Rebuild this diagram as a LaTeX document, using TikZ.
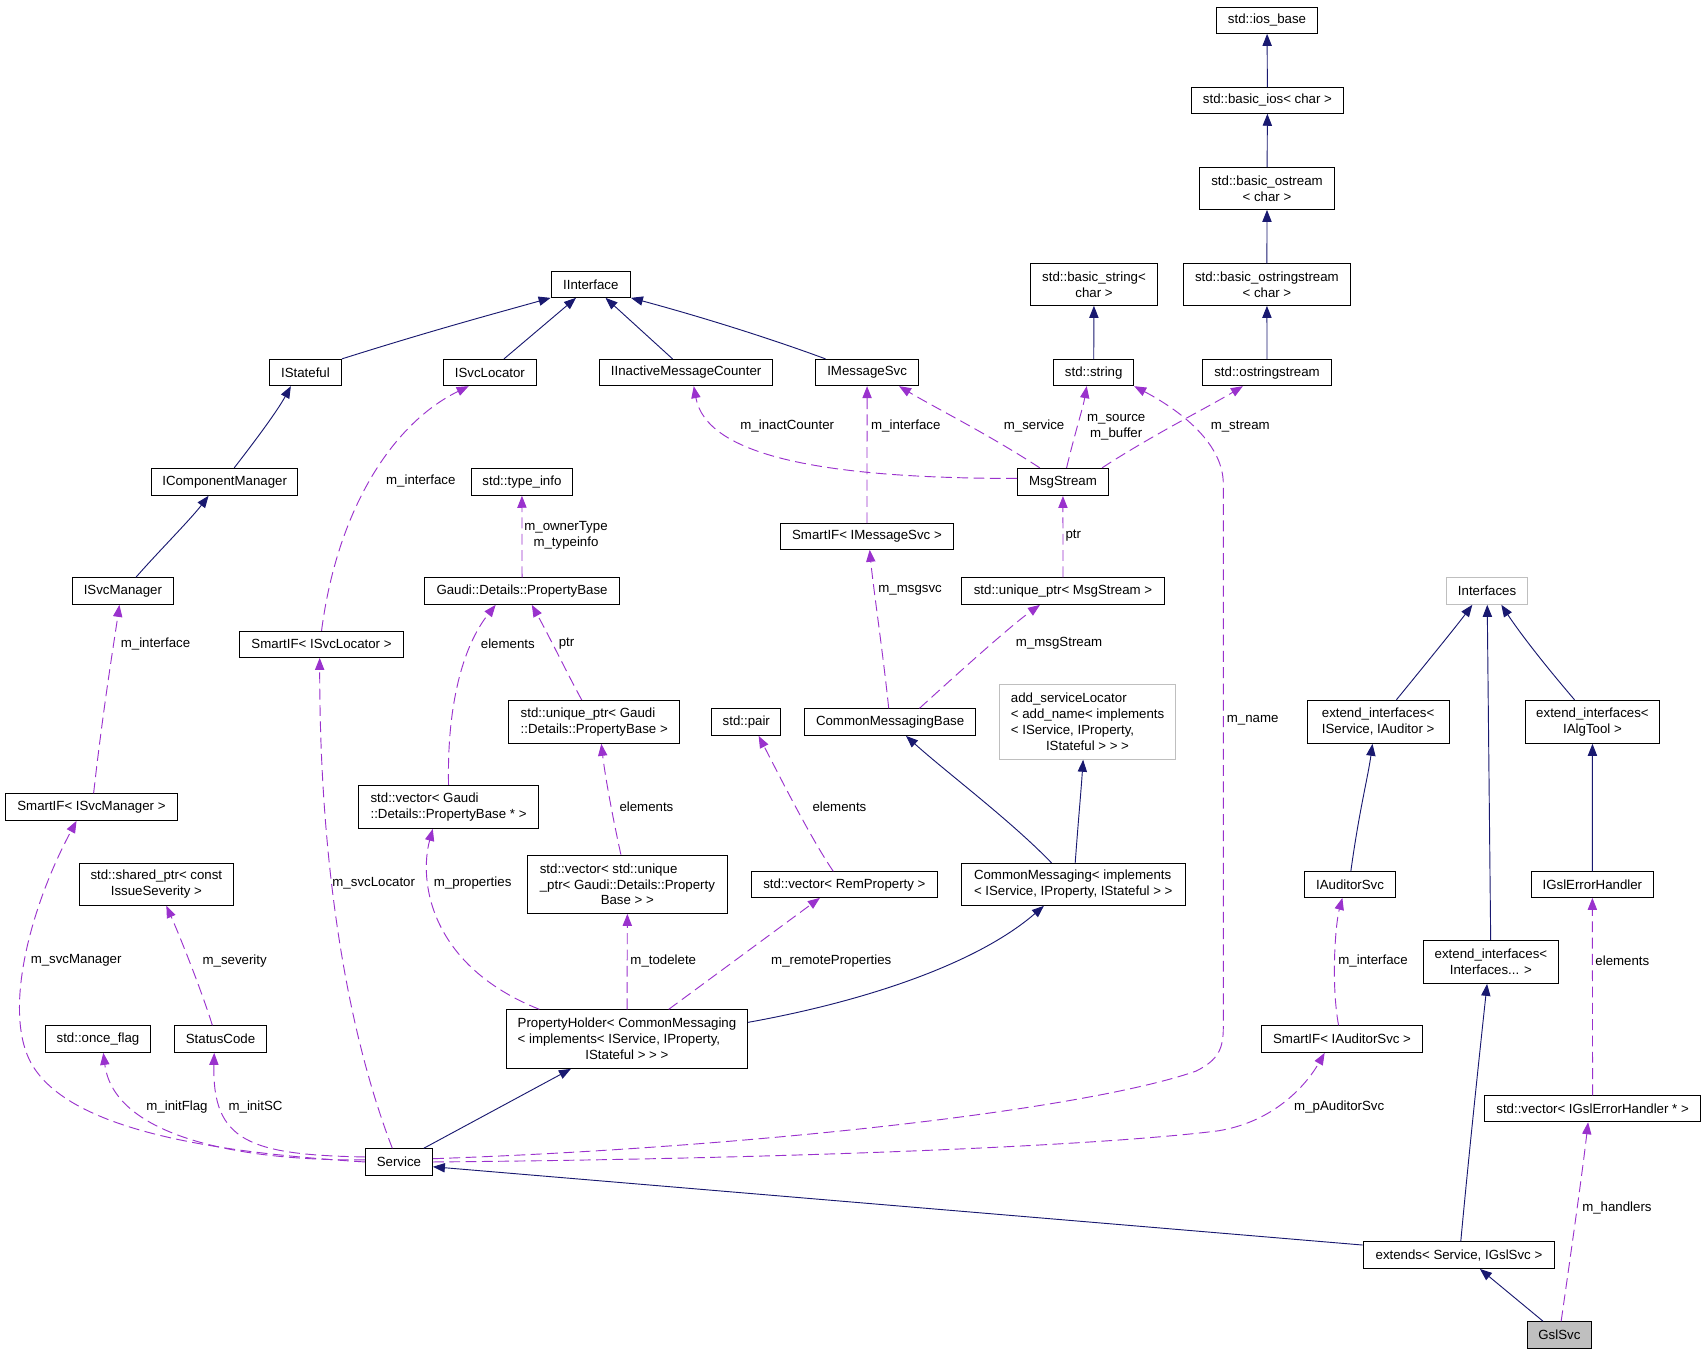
\documentclass[tikz,border=0pt]{standalone}
\usepackage{fontspec}
\setmainfont{Liberation Sans}
\usetikzlibrary{arrows.meta}
\definecolor{navyedge}{HTML}{191970}
\definecolor{purpedge}{HTML}{9A32CD}
\definecolor{graybd}{HTML}{BFBFBF}
\definecolor{gslgray}{HTML}{BFBFBF}
\begin{document}
\begin{tikzpicture}[x=1pt,y=-1pt,
  every node/.style={font=\fontsize{12.2}{14.7}\selectfont},
  sz/.style 2 args={minimum width=#1pt,minimum height=#2pt},
  box/.style={draw=black, line width=0.9pt, inner sep=0pt, align=center},
  grbox/.style={box, draw=graybd},
  lbl/.style={inner sep=0pt, align=center},
  inh/.style={draw=navyedge, line width=0.85pt, -{Triangle[length=11pt,width=8.5pt]}},
  dep/.style={draw=purpedge, line width=0.85pt, dash pattern=on 10pt off 5pt, -{Triangle[length=11pt,width=8.5pt]}}
]
\fill[white] (0,0) rectangle (1568,1246);
\useasboundingbox (0,0) rectangle (1568,1246);

% ---------- nodes ----------
\node[box,sz={92.4}{24}] (iosbase) at (1165.2,18.7) {std::ios\_base};
\node[box,sz={139.8}{23.6}] (basicios) at (1165.6,92.4) {std::basic\_ios< char >};
\node[box,sz={123.9}{38.3}] (bostream) at (1165.2,173.4) {std::basic\_ostream\\< char >};
\node[box,sz={153.6}{38.3}] (bostrstream) at (1165.1,261.7) {std::basic\_ostringstream\\< char >};
\node[box,sz={117}{38.6}] (bstring) at (1006.1,261.5) {std::basic\_string<\\char >};
\node[box,sz={73.6}{24}] (string) at (1005.8,342.7) {std::string};
\node[box,sz={118.9}{24}] (ostrstream) at (1165.2,342.7) {std::ostringstream};
\node[box,sz={73}{23.6}] (iinterface) at (543.3,261.7) {IInterface};
\node[box,sz={66.2}{24.2}] (istateful) at (280.9,342.6) {IStateful};
\node[box,sz={85.8}{24.2}] (isvclocator) at (450.5,342.6) {ISvcLocator};
\node[box,sz={159.3}{24.2}] (iinactive) at (631,342.6) {IInactiveMessageCounter};
\node[box,sz={94.6}{24.2}] (imsgsvc) at (797.4,342.6) {IMessageSvc};
\node[box,sz={134.4}{24.8}] (icompmgr) at (206.6,443.1) {IComponentManager};
\node[box,sz={92.9}{24.8}] (typeinfo) at (480,443.1) {std::type\_info};
\node[box,sz={83.5}{25}] (msgstream) at (977.5,443.2) {MsgStream};
\node[box,sz={159.1}{23.6}] (smartmsg) at (797.3,493.4) {SmartIF< IMessageSvc >};
\node[box,sz={92.9}{24.5}] (isvcmgr) at (113,543.6) {ISvcManager};
\node[box,sz={179.6}{24.5}] (propbase) at (480.1,543.6) {Gaudi::Details::PropertyBase};
\node[box,sz={186.7}{24.5}] (uptrmsg) at (977.6,543.6) {std::unique\_ptr< MsgStream >};
\node[grbox,sz={74.5}{24.8}] (interfaces) at (1367.6,543.4) {Interfaces};
\node[box,sz={150.7}{24}] (smartloc) at (295.7,592.6) {SmartIF< ISvcLocator >};
\node[box,sz={157.3}{39.5},align=left] (uptrpb) at (546.5,663.9) {std::unique\_ptr< Gaudi\\::Details::PropertyBase >};
\node[box,sz={63.7}{24.5}] (pair) at (686.3,664.1) {std::pair};
\node[box,sz={157.4}{24.5}] (cmbase) at (818.6,664.1) {CommonMessagingBase};
\node[grbox,sz={162.1}{68.6},align=left] (addsl) at (1000.2,664) {add\_serviceLocator\\< add\_name< implements\\< IService, IProperty,\\\hspace*{32.3pt}IStateful > > >};
\node[box,sz={130.3}{39.6}] (extaud) at (1267.4,663.8) {extend\_interfaces<\\IService, IAuditor >};
\node[box,sz={123.5}{39.6}] (extalg) at (1464.5,663.8) {extend\_interfaces<\\IAlgTool >};
\node[box,sz={158.4}{24.5}] (smartmgr) at (84.1,742.2) {SmartIF< ISvcManager >};
\node[box,sz={165.4}{39.5},align=left] (vecpb) at (412.5,742.1) {std::vector< Gaudi\\::Details::PropertyBase * >};
\node[box,sz={141.9}{38.6}] (sharedptr) at (143.8,813.3) {std::shared\_ptr< const\\IssueSeverity >};
\node[box,sz={184}{53.6},align=left] (vecupb) at (577,813.2) {std::vector< std::unique\\\_ptr< Gaudi::Details::Property\\\hspace*{56pt}Base > >};
\node[box,sz={171}{23.6}] (vecrem) at (776.5,813.5) {std::vector< RemProperty >};
\node[box,sz={206}{38.6},align=left] (cm) at (987,813.3) {CommonMessaging< implements\\< IService, IProperty, IStateful > >};
\node[box,sz={83.7}{23.6}] (iaudsvc) at (1241.6,813.5) {IAuditorSvc};
\node[box,sz={112}{23.6}] (igslerr) at (1464.4,813.5) {IGslErrorHandler};
\node[box,sz={124.2}{39.6}] (extint) at (1371.1,884.6) {extend\_interfaces<\\Interfaces... >};
\node[box,sz={96.4}{24.5}] (onceflag) at (90.1,955.6) {std::once\_flag};
\node[box,sz={84.5}{24.5}] (statuscode) at (202.8,955.6) {StatusCode};
\node[box,sz={221.8}{53.9},align=left] (propholder) at (576.6,955.6) {PropertyHolder< CommonMessaging\\< implements< IService, IProperty,\\\hspace*{62.3pt}IStateful > > >};
\node[box,sz={148.3}{24.5}] (smartaud) at (1234.2,955.6) {SmartIF< IAuditorSvc >};
\node[box,sz={199}{23.9}] (vecgsl) at (1464.6,1019.7) {std::vector< IGslErrorHandler * >};
\node[box,sz={61.6}{24.3}] (service) at (366.9,1068.6) {Service};
\node[box,sz={176.1}{24.5}] (extends) at (1341.7,1154.3) {extends< Service, IGslSvc >};
\node[box,sz={58.6}{24.5},fill=gslgray] (gslsvc) at (1434.1,1227.8) {GslSvc};

% ---------- inheritance edges ----------
\draw[inh] (basicios) -- (iosbase);
\draw[inh] (bostream) -- (basicios);
\draw[inh] (bostrstream) -- (bostream);
\draw[inh] (ostrstream) -- (bostrstream);
\draw[inh] (string) -- (bstring);
\draw[inh] (istateful.north east) .. controls (400,303) and (460,287) .. (iinterface.south west);
\draw[inh] ([xshift=13pt]isvclocator.north) -- ([xshift=-13.6pt]iinterface.south);
\draw[inh] ([xshift=-12.5pt]iinactive.north) -- ([xshift=13.6pt]iinterface.south);
\draw[inh] ([xshift=-38.2pt]imsgsvc.north) .. controls (705,310) and (640,290) .. (iinterface.south east);
\draw[inh] ([xshift=8.8pt]icompmgr.north) .. controls (235,405) and (255,378) .. ([xshift=-13.4pt]istateful.south);
\draw[inh] ([xshift=12pt]isvcmgr.north) .. controls (145,508) and (175,478) .. ([xshift=-14.8pt]icompmgr.south);
\draw[inh] ([xshift=-20pt]cm.north) .. controls (930,755) and (870,710) .. ([xshift=14.6pt]cmbase.south);
\draw[inh] ([xshift=1.8pt]cm.north) .. controls (992,750) and (994,730) .. ([xshift=-4.1pt]addsl.south);
\draw[inh] ([yshift=15.4pt]propholder.east) .. controls (800,920) and (900,885) .. ([xshift=-27pt]cm.south);
\draw[inh] ([xshift=22.8pt]service.north) -- ([xshift=-51.6pt]propholder.south);
\draw[inh] ([yshift=9.3pt]extends.west) -- ([yshift=-4.4pt]service.east);
\draw[inh] ([xshift=1.7pt]extends.north) .. controls (1350,1070) and (1360,975) .. ([xshift=-3.5pt]extint.south);
\draw[inh] ([xshift=-15pt]gslsvc.north) -- ([xshift=19.3pt]extends.south);
\draw[inh] ([xshift=16.8pt]extaud.north) .. controls (1310,612) and (1340,575) .. ([xshift=-13.6pt]interfaces.south);
\draw[inh] (extint) -- (interfaces);
\draw[inh] ([xshift=-16.5pt]extalg.north) .. controls (1415,605) and (1395,578) .. ([xshift=13.1pt]interfaces.south);
\draw[inh] ([xshift=0.7pt]iaudsvc.north) .. controls (1250,745) and (1258,715) .. ([xshift=-5.2pt]extaud.south);
\draw[inh] (igslerr) -- (extalg);

% ---------- usage edges ----------
\draw[dep] ([yshift=3.2pt]msgstream.west) .. controls (760,440) and (650,420) .. ([xshift=7pt]iinactive.south);
\draw[dep] (smartmsg) -- (imsgsvc);
\draw[dep] ([xshift=-21.3pt]msgstream.north) .. controls (910,400) and (860,375) .. ([xshift=29.4pt]imsgsvc.south);
\draw[dep] ([xshift=3.4pt]msgstream.north) .. controls (988,400) and (996,375) .. ([xshift=-6.4pt]string.south);
\draw[dep] ([xshift=36pt]msgstream.north) .. controls (1060,400) and (1110,375) .. ([xshift=-22.2pt]ostrstream.south);
\draw[dep] ([yshift=3pt]service.east) .. controls (700,1055) and (1000,1020) .. (1100,985) .. controls (1120,975) and (1125,965) .. (1125,945) -- (1125,445) .. controls (1125,410) and (1090,380) .. (string.south east);
\draw[dep] (smartloc.north) .. controls (310,470) and (360,390) .. ([xshift=-19.5pt]isvclocator.south);
\draw[dep] (propbase) -- (typeinfo);
\draw[dep] (uptrmsg) -- (msgstream);
\draw[dep] ([xshift=2pt]smartmgr.north) .. controls (95,650) and (105,590) .. ([xshift=-3.2pt]isvcmgr.south);
\draw[dep] (vecpb.north) .. controls (411,650) and (425,595) .. ([xshift=-24.3pt]propbase.south);
\draw[dep] ([xshift=-11.5pt]uptrpb.north) .. controls (522,620) and (505,585) .. ([xshift=9pt]propbase.south);
\draw[dep] ([xshift=-1.3pt]cmbase.north) .. controls (812,600) and (803,540) .. ([xshift=2.5pt]smartmsg.south);
\draw[dep] ([xshift=27pt]cmbase.north) .. controls (880,620) and (930,575) .. ([xshift=-21.2pt]uptrmsg.south);
\draw[dep] ([xshift=-6pt]vecupb.north) .. controls (562,745) and (556,710) .. ([xshift=6.5pt]uptrpb.south);
\draw[dep] ([xshift=-10.2pt]vecrem.north) .. controls (745,770) and (715,710) .. ([xshift=11.4pt]pair.south);
\draw[dep] ([xshift=-80.6pt]propholder.north) .. controls (395,888) and (385,810) .. ([xshift=-14.5pt]vecpb.south);
\draw[dep] (propholder) -- (vecupb);
\draw[dep] ([xshift=38.4pt]propholder.north) -- ([xshift=-22.5pt]vecrem.south);
\draw[dep] ([xshift=-6.1pt]service.north) .. controls (320,950) and (294,800) .. ([xshift=-1.7pt]smartloc.south);
\draw[dep] (service.west) .. controls (200,1060) and (53,1040) .. (25,970) .. controls (5,920) and (30,830) .. ([xshift=-13.7pt]smartmgr.south);
\draw[dep] ([xshift=-7.5pt]statuscode.north) .. controls (185,910) and (165,860) .. ([xshift=9.2pt]sharedptr.south);
\draw[dep] ([yshift=2pt]service.west) .. controls (220,1068) and (105,1045) .. ([xshift=4.9pt]onceflag.south);
\draw[dep] ([yshift=4.6pt]service.west) .. controls (230,1062) and (195,1050) .. ([xshift=-5.8pt]statuscode.south);
\draw[dep] (service.east) .. controls (700,1066) and (1000,1055) .. (1120,1040) .. controls (1170,1032) and (1200,1000) .. ([xshift=-16pt]smartaud.south);
\draw[dep] ([xshift=-3.2pt]smartaud.north) .. controls (1224,905) and (1228,850) .. ([xshift=-7.1pt]iaudsvc.south);
\draw[dep] (vecgsl) -- (igslerr);
\draw[dep] ([xshift=1.6pt]gslsvc.north) .. controls (1445,1150) and (1455,1080) .. ([xshift=-4.1pt]vecgsl.south);

% ---------- edge labels ----------
\node[lbl] (lInact) at (724,392) {m\_inactCounter};
\node[lbl] (lIfMsg) at (833,392) {m\_interface};
\node[lbl] (lServ) at (951,392) {m\_service};
\node[lbl] (lSrc) at (1026.5,392.5) {m\_source\\m\_buffer};
\node[lbl] (lStream) at (1140.6,392) {m\_stream};
\node[lbl] (lIfLoc) at (387,442) {m\_interface};
\node[lbl] (lOwner) at (520.5,492.4) {m\_ownerType\\m\_typeinfo};
\node[lbl] (lPtrMsg) at (987,492.7) {ptr};
\node[lbl] (lIfMgr) at (143,592) {m\_interface};
\node[lbl] (lElPb) at (467,592) {elements};
\node[lbl] (lPtrPb) at (521,592) {ptr};
\node[lbl] (lMsgsvc) at (837,543) {m\_msgsvc};
\node[lbl] (lMsgStr) at (974,592) {m\_msgStream};
\node[lbl] (lName) at (1152,662.8) {m\_name};
\node[lbl] (lElUp) at (594.5,742) {elements};
\node[lbl] (lElPair) at (772,742) {elements};
\node[lbl] (lSvcLoc) at (343.7,812.4) {m\_svcLocator};
\node[lbl] (lProps) at (434.7,812.4) {m\_properties};
\node[lbl] (lSvcMgr) at (70,883.5) {m\_svcManager};
\node[lbl] (lSev) at (215.8,883.5) {m\_severity};
\node[lbl] (lTodel) at (610,883.5) {m\_todelete};
\node[lbl] (lRemote) at (764.5,883.5) {m\_remoteProperties};
\node[lbl] (lIfAud) at (1262.7,883.5) {m\_interface};
\node[lbl] (lElGsl) at (1492,883.5) {elements};
\node[lbl] (lInitF) at (162.8,1018.4) {m\_initFlag};
\node[lbl] (lInitSC) at (235,1018.4) {m\_initSC};
\node[lbl] (lPAud) at (1231.6,1018.4) {m\_pAuditorSvc};
\node[lbl] (lHand) at (1487,1110.7) {m\_handlers};
\end{tikzpicture}
\end{document}
